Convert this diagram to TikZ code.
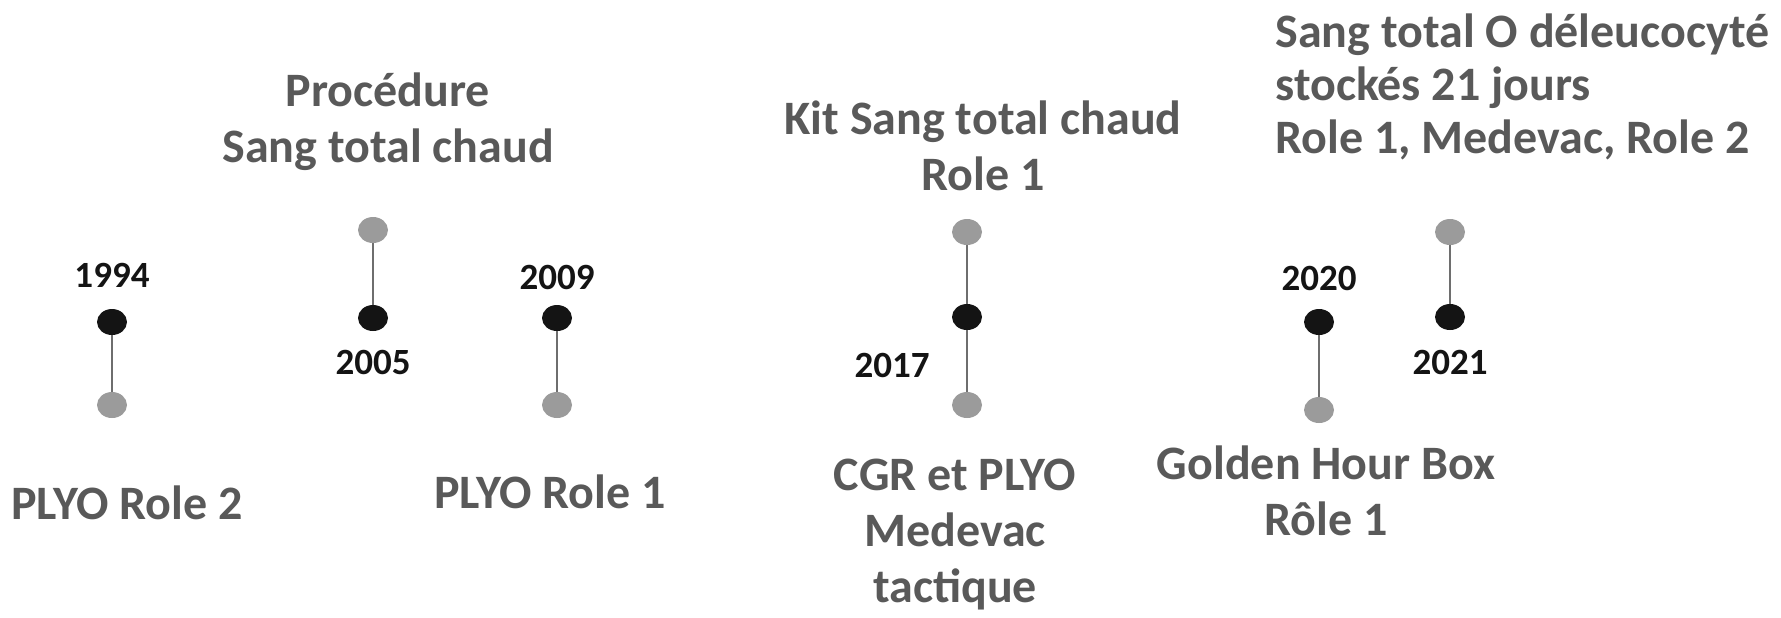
\documentclass[tikz,border=0pt]{standalone}
\usepackage{fontspec}
\setmainfont{Carlito}
\usetikzlibrary{shapes.geometric}
\definecolor{textgray}{HTML}{595959}
\definecolor{dotgray}{HTML}{9B9B9B}
\definecolor{dotblack}{HTML}{141414}
\definecolor{stemgray}{HTML}{6E6E6E}
\begin{document}
\begin{tikzpicture}[x=0.5pt,y=-0.5pt,
		blackdot/.style={ellipse,fill=dotblack,minimum width=15pt,minimum height=13pt,inner sep=0pt},
		graydot/.style={ellipse,fill=dotgray,minimum width=15pt,minimum height=13pt,inner sep=0pt},
		stem/.style={draw=stemgray,line width=1.1pt},
		year/.style={font=\fontsize{18.5}{22}\selectfont\bfseries,text=dotblack,inner sep=0pt},
		event/.style={font=\fontsize{24}{28}\selectfont\bfseries,text=textgray,align=center,inner sep=0pt,anchor=base}]
	\useasboundingbox (0,0) rectangle (1781,617);
	% 1994
	\node[blackdot] (d94) at (112,322) {};
	\node[graydot] (g94) at (112,405) {};
	\draw[stem] (d94) -- (g94);
	\node[year] (y94) at (112,275) {1994};
	\node[event] (e94) at (127,519) {PLYO Role 2};
	% 2005
	\node[graydot] (g05) at (373,230) {};
	\node[blackdot] (d05) at (373,318) {};
	\draw[stem] (g05) -- (d05);
	\node[year] (y05) at (373,362) {2005};
	\node[event] (e05) at (388,162) {Procédure\\Sang total chaud};
	% 2009
	\node[blackdot] (d09) at (557,318) {};
	\node[graydot] (g09) at (557,405) {};
	\draw[stem] (d09) -- (g09);
	\node[year] (y09) at (557,277) {2009};
	\node[event] (e09) at (550,508) {PLYO Role 1};
	% 2017
	\node[graydot] (g17a) at (967,232) {};
	\node[blackdot] (d17) at (967,317) {};
	\node[graydot] (g17b) at (967,405) {};
	\draw[stem] (g17a) -- (d17) -- (g17b);
	\node[year] (y17) at (892,365) {2017};
	\node[event] (e17a) at (983,190) {Kit Sang total chaud\\Role 1};
	\node[event] (e17b) at (955,602) {CGR et PLYO\\Medevac\\tactique};
	% 2020
	\node[blackdot] (d20) at (1319,322) {};
	\node[graydot] (g20) at (1319,410) {};
	\draw[stem] (d20) -- (g20);
	\node[year] (y20) at (1319,278) {2020};
	\node[event] (e20) at (1326,535) {Golden Hour Box\\Rôle 1};
	% 2021
	\node[graydot] (g21) at (1450,232) {};
	\node[blackdot] (d21) at (1450,317) {};
	\draw[stem] (g21) -- (d21);
	\node[year] (y21) at (1450,362) {2021};
	\node[event,font=\fontsize{24}{26.5}\selectfont\bfseries,align=left,anchor=base west] (e21) at (1275,153) {Sang total O déleucocyté\\stockés 21 jours\\Role 1, Medevac, Role 2};
\end{tikzpicture}
\end{document}
